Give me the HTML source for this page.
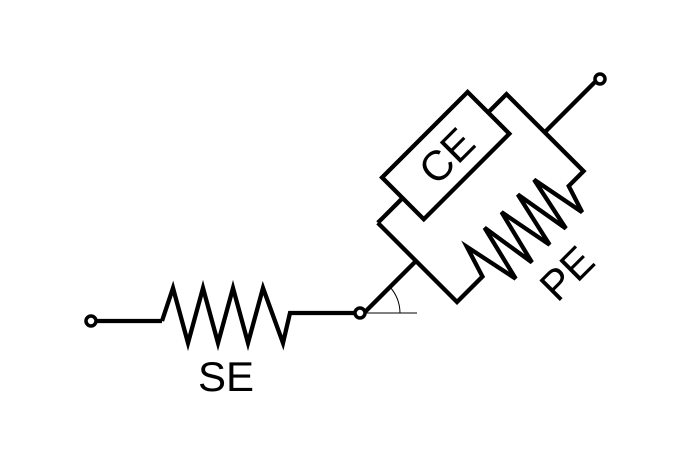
<!DOCTYPE html>
<html><head><meta charset="utf-8"><style>html,body{margin:0;padding:0;background:#fff;}svg{display:block}</style></head>
<body>
<svg width="693" height="465" viewBox="0 0 693 465" xmlns="http://www.w3.org/2000/svg">
<g fill="none" stroke="#000" stroke-width="4.3" stroke-linejoin="miter">
  <line x1="95" y1="321" x2="162" y2="321"/>
  <polyline points="162,321 173,288 188,343 203,288 218,343 233,288 248,343 263,288 283,343 290,313 355,313"/>
  <circle cx="91" cy="321" r="5" stroke-width="3.5" fill="#fff"/>
  <line x1="360" y1="313" x2="417" y2="313" stroke-width="1"/>
  <path d="M400,313 A40,40 0 0 0 390,287" stroke-width="1"/>
  <g transform="translate(457,302) rotate(-45)">
    <line x1="-72" y1="-58" x2="0" y2="-58"/>
    <polyline points="0,-112 0,0 36,0 46,-32 58,25 72,-33 81,25 95,-32 106,25 119,-33 129,25 141,-32 152,25 161,-3 182,-3 182,-112 156,-112"/>
    <line x1="0" y1="-112" x2="35" y2="-112"/>
    <rect x="35" y="-141" width="121" height="59"/>
    <line x1="182" y1="-58" x2="254" y2="-58"/>
    <text x="96" y="-96" font-family="Liberation Sans, sans-serif" font-size="42" text-anchor="middle" fill="#000" stroke="none">CE</text>
    <text x="98" y="72" font-family="Liberation Sans, sans-serif" font-size="42" text-anchor="middle" fill="#000" stroke="none">PE</text>
  </g>
  <circle cx="360" cy="313" r="5" stroke-width="3.5" fill="#fff"/>
  <circle cx="600" cy="79" r="5" stroke-width="3.5" fill="#fff"/>
</g>
<text x="226" y="391" font-family="Liberation Sans, sans-serif" font-size="42" text-anchor="middle" fill="#000">SE</text>
</svg>
</body></html>
